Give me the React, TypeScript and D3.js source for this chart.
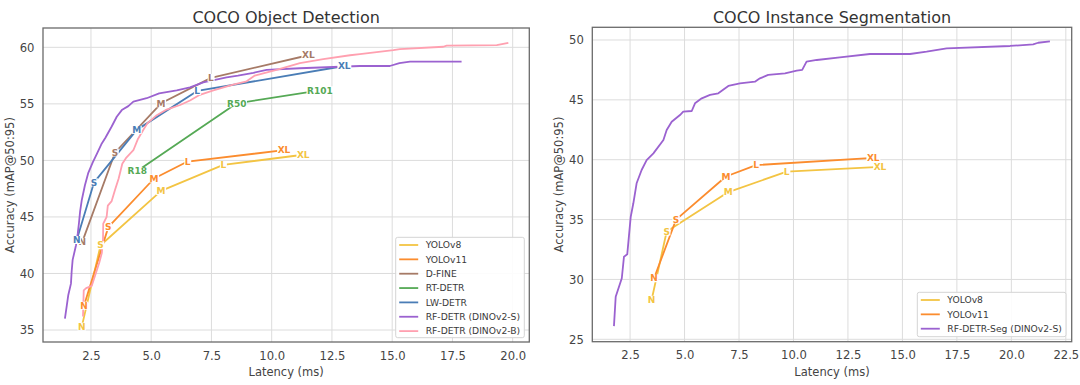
import { useEffect, useRef } from "react";
import * as d3 from "d3";

type Pt = { m: string; lat: number; ap: number };
type XY = [number, number];

// COCO Object Detection — model size points
const detYolov8: Pt[] = [
  { m: "N", lat: 2.12, ap: 35.3 },
  { m: "S", lat: 2.9, ap: 42.5 },
  { m: "M", lat: 5.41, ap: 47.3 },
  { m: "L", lat: 7.99, ap: 49.6 },
  { m: "XL", lat: 11.31, ap: 50.5 },
];
const detYolov11: Pt[] = [
  { m: "N", lat: 2.21, ap: 37.15 },
  { m: "S", lat: 3.22, ap: 44.1 },
  { m: "M", lat: 5.12, ap: 48.4 },
  { m: "L", lat: 6.51, ap: 49.9 },
  { m: "XL", lat: 10.51, ap: 50.9 },
];
const detDfine: Pt[] = [
  { m: "N", lat: 2.14, ap: 42.8 },
  { m: "S", lat: 3.5, ap: 50.7 },
  { m: "M", lat: 5.41, ap: 55.05 },
  { m: "L", lat: 7.48, ap: 57.3 },
  { m: "XL", lat: 11.52, ap: 59.3 },
];
const detRtdetr: Pt[] = [
  { m: "R18", lat: 4.42, ap: 49.06 },
  { m: "R50", lat: 8.55, ap: 55.05 },
  { m: "R101", lat: 12.0, ap: 56.2 },
];
const detLwdetr: Pt[] = [
  { m: "N", lat: 1.91, ap: 42.96 },
  { m: "S", lat: 2.63, ap: 48.06 },
  { m: "M", lat: 4.4, ap: 52.7 },
  { m: "L", lat: 6.91, ap: 56.14 },
  { m: "XL", lat: 13.01, ap: 58.35 },
];
const rfdetrS: XY[] = [
  [1.42, 36.0], [1.5, 37.2], [1.56, 38.1], [1.67, 39.1], [1.7, 40.2], [1.74, 41.2],
  [1.88, 42.5], [1.95, 43.5], [2.0, 44.4], [2.05, 45.5], [2.12, 46.5], [2.25, 47.8],
  [2.39, 48.9], [2.57, 49.8], [2.75, 50.6], [2.95, 51.5], [3.1, 52.0], [3.36, 53.0],
  [3.57, 53.86], [3.78, 54.45], [4.05, 54.8], [4.26, 55.2], [4.81, 55.5], [5.33, 55.93],
  [6.06, 56.2], [6.61, 56.46], [7.16, 56.9], [8.13, 57.35], [8.6, 57.5], [9.24, 57.75],
  [9.79, 58.0], [11.17, 58.15], [13.66, 58.35], [14.9, 58.35], [15.3, 58.6],
  [15.74, 58.73], [17.88, 58.73],
];
const rfdetrB: XY[] = [
  [2.17, 36.2], [2.2, 38.5], [2.3, 38.7], [2.53, 38.9], [2.7, 40.0], [2.85, 41.0],
  [2.95, 41.8], [3.0, 43.0], [3.01, 44.4], [3.15, 45.0], [3.2, 46.0], [3.36, 46.4],
  [3.5, 47.4], [3.65, 48.4], [3.8, 49.7], [3.95, 50.2], [4.26, 50.9], [4.45, 51.9],
  [4.7, 52.8], [4.85, 53.3], [5.23, 54.0], [5.64, 54.5], [6.2, 54.9], [6.61, 55.3],
  [7.02, 55.8], [7.58, 56.2], [8.4, 56.7], [8.96, 57.0], [9.3, 57.5], [9.65, 57.7],
  [10.2, 58.0], [11.17, 58.6], [12.14, 58.95], [13.25, 59.3], [13.66, 59.4],
  [15.05, 59.75], [15.32, 59.85], [17.12, 60.05], [17.26, 60.15], [19.34, 60.2],
  [19.82, 60.4],
];

// COCO Instance Segmentation
const segYolov8: Pt[] = [
  { m: "N", lat: 3.49, ap: 28.3 },
  { m: "S", lat: 4.18, ap: 34.0 },
  { m: "M", lat: 7.01, ap: 37.3 },
  { m: "L", lat: 9.69, ap: 39.0 },
  { m: "XL", lat: 13.97, ap: 39.4 },
];
const segYolov11: Pt[] = [
  { m: "N", lat: 3.6, ap: 30.1 },
  { m: "S", lat: 4.61, ap: 35.0 },
  { m: "M", lat: 6.9, ap: 38.6 },
  { m: "L", lat: 8.28, ap: 39.55 },
  { m: "XL", lat: 13.66, ap: 40.15 },
];
const rfdetrSeg: XY[] = [
  [1.76, 26.1], [1.84, 28.55], [2.12, 30.1], [2.22, 31.9], [2.37, 32.1], [2.53, 35.24],
  [2.65, 36.36], [2.8, 38.03], [3.03, 39.14], [3.26, 39.97], [3.57, 40.53], [4.03, 41.65],
  [4.18, 42.48], [4.41, 43.17], [4.79, 43.73], [4.94, 44.01], [5.33, 44.07], [5.48, 44.71],
  [5.79, 45.13], [6.17, 45.41], [6.55, 45.55], [7.01, 46.16], [7.54, 46.38], [8.23, 46.52],
  [8.46, 46.8], [8.84, 47.08], [9.61, 47.22], [10.15, 47.44], [10.4, 47.5], [10.6, 48.19],
  [11.07, 48.33], [12.13, 48.55], [13.51, 48.83], [15.35, 48.83], [16.11, 49.02],
  [17.03, 49.3], [19.94, 49.5], [21.0, 49.64], [21.23, 49.77], [21.77, 49.89],
];

const detXTicks = [2.5, 5, 7.5, 10, 12.5, 15, 17.5, 20];
const detYTicks = [35, 40, 45, 50, 55, 60];
const segXTicks = [2.5, 5, 7.5, 10, 12.5, 15, 17.5, 20, 22.5];
const segYTicks = [25, 30, 35, 40, 45, 50];

const C = {
  yolov8: "#f3c443",
  yolov11: "#fb8c2e",
  dfine: "#a67a66",
  rtdetr: "#55a955",
  lwdetr: "#4a7db6",
  rfS: "#9b62d0",
  rfB: "#ffa0b0",
};

type Series = { name: string; color: string; pts?: Pt[]; curve?: XY[] };

const detSeries: Series[] = [
  { name: "YOLOv8", color: C.yolov8, pts: detYolov8 },
  { name: "YOLOv11", color: C.yolov11, pts: detYolov11 },
  { name: "D-FINE", color: C.dfine, pts: detDfine },
  { name: "RT-DETR", color: C.rtdetr, pts: detRtdetr },
  { name: "LW-DETR", color: C.lwdetr, pts: detLwdetr },
  { name: "RF-DETR (DINOv2-S)", color: C.rfS, curve: rfdetrS },
  { name: "RF-DETR (DINOv2-B)", color: C.rfB, curve: rfdetrB },
];
const segSeries: Series[] = [
  { name: "YOLOv8", color: C.yolov8, pts: segYolov8 },
  { name: "YOLOv11", color: C.yolov11, pts: segYolov11 },
  { name: "RF-DETR-Seg (DINOv2-S)", color: C.rfS, curve: rfdetrSeg },
];

const FONT = "DejaVu Sans, sans-serif";

type Panel = {
  title: string;
  left: number;
  right: number;
  top: number;
  bottom: number;
  xDomain: XY;
  yDomain: XY;
  xTicks: number[];
  yTicks: number[];
  xPad: number;
  series: Series[];
  legend: { x0: number; x1: number; y0: number; y1: number };
};

const panels: Panel[] = [
  {
    title: "COCO Object Detection",
    left: 43, right: 529.3, top: 28, bottom: 342,
    xDomain: [0.51, 20.69], yDomain: [33.94, 61.71],
    xTicks: detXTicks, yTicks: detYTicks, xPad: 9.6,
    series: detSeries,
    legend: { x0: 395.7, x1: 524.3, y0: 237.3, y1: 337.7 },
  },
  {
    title: "COCO Instance Segmentation",
    left: 592.3, right: 1071.7, top: 27.3, bottom: 341.7,
    xDomain: [0.766, 22.77], yDomain: [24.8, 51.06],
    xTicks: segXTicks, yTicks: segYTicks, xPad: 8.8,
    series: segSeries,
    legend: { x0: 917.3, x1: 1066, y0: 292.3, y1: 336.7 },
  },
];

function drawPanel(root: d3.Selection<SVGSVGElement, unknown, null, undefined>, p: Panel) {
  const x = d3.scaleLinear().domain(p.xDomain).range([p.left, p.right]);
  const y = d3.scaleLinear().domain(p.yDomain).range([p.bottom, p.top]);
  const g = root.append("g");

  // grid
  g.append("g")
    .selectAll("line")
    .data(p.xTicks)
    .join("line")
    .attr("x1", (d) => x(d))
    .attr("x2", (d) => x(d))
    .attr("y1", p.top)
    .attr("y2", p.bottom)
    .attr("stroke", "#dcdcdc")
    .attr("stroke-width", 1);
  g.append("g")
    .selectAll("line")
    .data(p.yTicks)
    .join("line")
    .attr("x1", p.left)
    .attr("x2", p.right)
    .attr("y1", (d) => y(d))
    .attr("y2", (d) => y(d))
    .attr("stroke", "#dcdcdc")
    .attr("stroke-width", 1);

  // lines
  const line = d3
    .line<XY>()
    .x((d) => x(d[0]))
    .y((d) => y(d[1]));
  p.series.forEach((s) => {
    const data: XY[] = s.curve ? s.curve : (s.pts as Pt[]).map((d) => [d.lat, d.ap] as XY);
    g.append("path")
      .attr("d", line(data))
      .attr("fill", "none")
      .attr("stroke", s.color)
      .attr("stroke-width", 1.8)
      .attr("stroke-linejoin", "round");
  });

  // model-size labels with white box
  p.series.forEach((s) => {
    if (!s.pts) return;
    s.pts.forEach((d) => {
      const lg = g.append("g");
      const rect = lg.append("rect").attr("fill", "white");
      const t = lg
        .append("text")
        .attr("x", x(d.lat))
        .attr("y", y(d.ap))
        .attr("dy", "0.36em")
        .attr("text-anchor", "middle")
        .attr("font-family", FONT)
        .attr("font-size", 9)
        .attr("font-weight", "bold")
        .attr("fill", s.color)
        .text(d.m);
      const bb = (t.node() as SVGTextElement).getBBox();
      rect
        .attr("x", bb.x - 0.5)
        .attr("y", y(d.ap) - 4)
        .attr("width", bb.width + 1)
        .attr("height", 8);
    });
  });

  // frame
  g.append("rect")
    .attr("x", p.left)
    .attr("y", p.top)
    .attr("width", p.right - p.left)
    .attr("height", p.bottom - p.top)
    .attr("fill", "none")
    .attr("stroke", "#6a6a6a")
    .attr("stroke-width", 1.3);

  // axes
  const xa = g
    .append("g")
    .attr("transform", `translate(0,${p.bottom})`)
    .call(d3.axisBottom(x).tickValues(p.xTicks).tickSize(0).tickPadding(p.xPad).tickFormat(d3.format(".1f")));
  const ya = g
    .append("g")
    .attr("transform", `translate(${p.left},0)`)
    .call(d3.axisLeft(y).tickValues(p.yTicks).tickSize(0).tickPadding(8.5).tickFormat(d3.format("d")));
  [xa, ya].forEach((a) => {
    a.select(".domain").remove();
    a.selectAll("text").attr("font-family", FONT).attr("font-size", 11.6).attr("fill", "#444");
  });

  const cx = (p.left + p.right) / 2;
  const cy = (p.top + p.bottom) / 2;
  g.append("text")
    .attr("x", cx)
    .attr("y", 22.5)
    .attr("text-anchor", "middle")
    .attr("font-family", FONT)
    .attr("font-size", 16)
    .attr("fill", "#333")
    .text(p.title);
  g.append("text")
    .attr("x", cx)
    .attr("y", 375.5)
    .attr("text-anchor", "middle")
    .attr("font-family", FONT)
    .attr("font-size", 11.5)
    .attr("fill", "#444")
    .text("Latency (ms)");
  g.append("text")
    .attr("transform", `translate(${p.left - 29.5},${cy}) rotate(-90)`)
    .attr("text-anchor", "middle")
    .attr("font-family", FONT)
    .attr("font-size", 11.5)
    .attr("fill", "#444")
    .text("Accuracy (mAP@50:95)");

  // legend
  const L = p.legend;
  const lg = g.append("g");
  lg.append("rect")
    .attr("x", L.x0)
    .attr("y", L.y0)
    .attr("width", L.x1 - L.x0)
    .attr("height", L.y1 - L.y0)
    .attr("rx", 2)
    .attr("fill", "white")
    .attr("fill-opacity", 0.9)
    .attr("stroke", "#d4d4d4")
    .attr("stroke-width", 1);
  const item = lg
    .selectAll("g")
    .data(p.series)
    .join("g")
    .attr("transform", (_, i) => `translate(${L.x0},${L.y0 + 7.7 + i * 14.35})`);
  item
    .append("line")
    .attr("x1", 3.5)
    .attr("x2", 22.5)
    .attr("stroke", (d) => d.color)
    .attr("stroke-width", 1.8);
  item
    .append("text")
    .attr("x", 30)
    .attr("dy", "0.35em")
    .attr("font-family", FONT)
    .attr("font-size", 9.2)
    .attr("fill", "#3a3a3a")
    .text((d) => d.name);
}

export default function App() {
  const ref = useRef<SVGSVGElement>(null);
  useEffect(() => {
    const svg = d3.select(ref.current as SVGSVGElement);
    svg.selectAll("*").remove();
    panels.forEach((p) => drawPanel(svg, p));
  }, []);
  return (
    <div style={{ position: "absolute", left: 0, top: 0 }}>
      <svg ref={ref} width={1080} height={385} style={{ display: "block", background: "white" }} />
    </div>
  );
}
